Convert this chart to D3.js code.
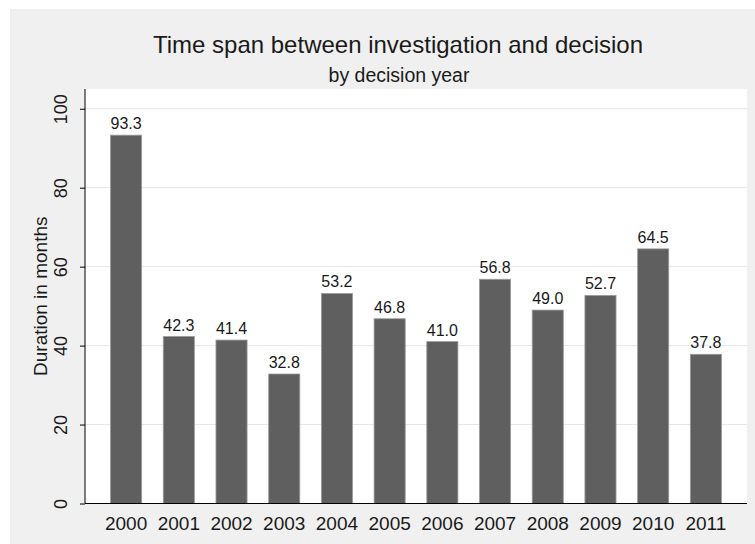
<!DOCTYPE html>
<html>
<head>
<meta charset="utf-8">
<script src="https://cdn.jsdelivr.net/npm/d3@7"></script>
<style>
  html, body { margin: 0; padding: 0; background: #ffffff; }
  svg { display: block; font-family: Arial, "Liberation Sans", sans-serif; }
</style>
</head>
<body>
<div id="app"></div>
<script>
const years = ['2000', '2001', '2002', '2003', '2004', '2005', '2006', '2007', '2008', '2009', '2010', '2011'];
const durations = [93.3, 42.3, 41.4, 32.8, 53.2, 46.8, 41.0, 56.8, 49.0, 52.7, 64.5, 37.8];
const yTicks = [0, 20, 40, 60, 80, 100];

const w = 755;
const h = 544;

const plot = { left: 85, right: 747, top: 89, bottom: 503.5 };

const svg = d3.select('#app').append('svg')
  .attr('width', w)
  .attr('height', h);

// outer graph region
svg.append('rect')
  .attr('x', 10).attr('y', 9)
  .attr('width', w - 10).attr('height', h - 9)
  .attr('fill', '#f0f0f0');

// plot region
svg.append('rect')
  .attr('x', plot.left).attr('y', plot.top)
  .attr('width', plot.right - plot.left).attr('height', plot.bottom - plot.top)
  .attr('fill', '#ffffff');

const x = d3.scaleBand()
  .domain(years)
  .range([plot.left, plot.right])
  .paddingInner(0.41)
  .paddingOuter(0.485);

const y = d3.scaleLinear()
  .domain([0, 105])
  .range([plot.bottom, plot.top]);

//////////GRID//////////
svg.append('g')
  .selectAll('line')
  .data(yTicks.filter(d => d > 0))
  .join('line')
  .attr('x1', plot.left).attr('x2', plot.right)
  .attr('y1', d => y(d)).attr('y2', d => y(d))
  .attr('stroke', '#e6e6e6')
  .attr('stroke-width', 1);

//////////BARS//////////
svg.append('g')
  .selectAll('rect')
  .data(durations)
  .join('rect')
  .attr('x', (d, i) => x(years[i]))
  .attr('y', d => y(d))
  .attr('width', x.bandwidth())
  .attr('height', d => y(0) - y(d))
  .attr('fill', '#5f5f5f')
  .attr('stroke', '#9a9a9a')
  .attr('stroke-width', 0.8);

svg.append('g')
  .selectAll('text')
  .data(durations)
  .join('text')
  .attr('x', (d, i) => x(years[i]) + x.bandwidth() / 2)
  .attr('y', d => y(d) - 6)
  .attr('text-anchor', 'middle')
  .attr('font-size', '16px')
  .attr('fill', '#1a1a1a')
  .text(d => d.toFixed(1));

//////////AXES//////////
const yAxis = svg.append('g')
  .attr('transform', `translate(${plot.left},0)`)
  .call(d3.axisLeft(y).tickValues(yTicks).tickSize(5).tickSizeOuter(0).tickFormat(d3.format('d')));

yAxis.select('.domain').attr('stroke', '#000').attr('d', `M0,${plot.top}V${plot.bottom}`);
yAxis.selectAll('.tick line').attr('stroke', '#000');
yAxis.selectAll('.tick text')
  .attr('font-size', '18px')
  .attr('fill', '#1a1a1a')
  .attr('text-anchor', 'middle')
  .attr('x', null).attr('dy', null)
  .attr('transform', 'translate(-18,0) rotate(-90)');

const xAxis = svg.append('g')
  .attr('transform', `translate(0,${plot.bottom})`)
  .call(d3.axisBottom(x).tickSize(0).tickSizeOuter(0));

xAxis.select('.domain').attr('stroke', '#000').attr('d', `M${plot.left},0H${plot.right}`);
xAxis.selectAll('.tick text')
  .attr('font-size', '19px')
  .attr('fill', '#1a1a1a')
  .attr('y', 26)
  .attr('dy', null);

//////////TITLES//////////
svg.append('text')
  .attr('x', 398).attr('y', 53)
  .attr('text-anchor', 'middle')
  .attr('font-size', '24px')
  .attr('fill', '#1a1a1a')
  .text('Time span between investigation and decision');

svg.append('text')
  .attr('x', 399).attr('y', 82)
  .attr('text-anchor', 'middle')
  .attr('font-size', '19.5px')
  .attr('fill', '#1a1a1a')
  .text('by decision year');

svg.append('text')
  .attr('transform', `translate(47,${(plot.top + plot.bottom) / 2}) rotate(-90)`)
  .attr('text-anchor', 'middle')
  .attr('font-size', '19px')
  .attr('fill', '#1a1a1a')
  .text('Duration in months');
</script>
</body>
</html>
